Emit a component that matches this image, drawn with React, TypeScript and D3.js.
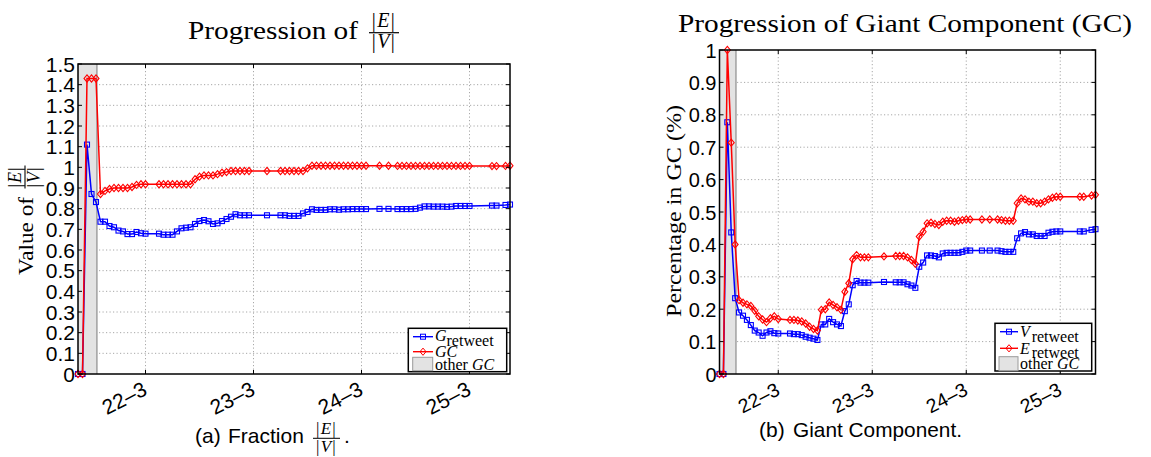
import React from "react";
import * as d3 from "d3";

// hours since 21-3 09:00
const hours = [0, 1, 2, 3, 4, 5, 6, 7, 8, 9, 10, 11, 12, 13, 14, 15,
  18, 19, 20, 21, 22, 23, 24, 25, 26, 27, 28, 29, 30, 31, 32, 33, 34, 35, 36, 37, 38,
  42,
  45, 46, 47, 48, 49, 50, 51, 52, 53, 54, 55, 56, 57, 58, 59, 60, 61, 62, 63, 64,
  67, 69,
  71, 72, 73, 74, 75, 76, 77, 78, 79, 80, 81, 82, 83, 84, 85, 86, 87,
  92, 93, 95, 96];

// (a) |E|/|V| of G_retweet
const ratioRetweet = [0, 0, 1.11, 0.871, 0.832, 0.737, 0.737, 0.716, 0.71, 0.694, 0.69, 0.677, 0.677, 0.687, 0.681, 0.679,
  0.679, 0.674, 0.674, 0.674, 0.69, 0.705, 0.708, 0.71, 0.726, 0.74, 0.745, 0.739, 0.726, 0.729, 0.74, 0.75, 0.761, 0.773, 0.768, 0.768, 0.768,
  0.768,
  0.768, 0.768, 0.765, 0.765, 0.765, 0.777, 0.784, 0.797, 0.794, 0.794, 0.794, 0.797, 0.797, 0.795, 0.797, 0.797, 0.798, 0.798, 0.798, 0.798,
  0.799, 0.799,
  0.798, 0.798, 0.798, 0.798, 0.799, 0.805, 0.811, 0.811, 0.81, 0.81, 0.81, 0.809, 0.81, 0.813, 0.813, 0.813, 0.813,
  0.815, 0.815, 0.818, 0.82];

// (a) |E|/|V| of GC
const ratioGC = [0, 0, 1.43, 1.43, 1.43, 0.871, 0.886, 0.895, 0.9, 0.9, 0.9, 0.9, 0.905, 0.915, 0.918, 0.918,
  0.918, 0.918, 0.918, 0.918, 0.918, 0.918, 0.918, 0.918, 0.942, 0.955, 0.961, 0.961, 0.961, 0.967, 0.974, 0.977, 0.982, 0.982, 0.982, 0.982, 0.982,
  0.982,
  0.982, 0.982, 0.982, 0.982, 0.982, 0.982, 0.995, 1.008, 1.008, 1.008, 1.008, 1.008, 1.008, 1.008, 1.008, 1.008, 1.008, 1.008, 1.008, 1.008,
  1.008, 1.008,
  1.007, 1.007, 1.007, 1.007, 1.007, 1.007, 1.007, 1.007, 1.007, 1.007, 1.007, 1.007, 1.007, 1.007, 1.007, 1.007, 1.007,
  1.006, 1.006, 1.007, 1.008];

// (b) fraction of V_retweet in GC
const gcNodes = [0, 0, 0.777, 0.437, 0.234, 0.19, 0.18, 0.167, 0.151, 0.134, 0.128, 0.118, 0.128, 0.132, 0.126, 0.125,
  0.125, 0.123, 0.123, 0.12, 0.115, 0.112, 0.109, 0.105, 0.153, 0.153, 0.17, 0.16, 0.153, 0.148, 0.194, 0.215, 0.274, 0.287, 0.282, 0.282, 0.282,
  0.284,
  0.283, 0.283, 0.283, 0.277, 0.273, 0.266, 0.331, 0.344, 0.366, 0.366, 0.364, 0.36, 0.372, 0.374, 0.374, 0.374, 0.374, 0.377, 0.381, 0.381,
  0.381, 0.381,
  0.381, 0.379, 0.377, 0.377, 0.377, 0.419, 0.434, 0.438, 0.431, 0.431, 0.426, 0.426, 0.426, 0.436, 0.439, 0.44, 0.44,
  0.44, 0.44, 0.445, 0.447];

// (b) fraction of E_retweet in GC
const gcEdges = [0, 0, 1.0, 0.714, 0.4, 0.228, 0.22, 0.215, 0.21, 0.195, 0.178, 0.168, 0.16, 0.172, 0.178, 0.17,
  0.167, 0.167, 0.165, 0.162, 0.156, 0.146, 0.139, 0.134, 0.198, 0.2, 0.221, 0.213, 0.206, 0.198, 0.254, 0.28, 0.354, 0.367, 0.36, 0.36, 0.36,
  0.363,
  0.364, 0.364, 0.364, 0.36, 0.352, 0.34, 0.424, 0.439, 0.465, 0.467, 0.463, 0.46, 0.47, 0.473, 0.473, 0.47, 0.473, 0.475, 0.477, 0.477,
  0.477, 0.477,
  0.477, 0.475, 0.473, 0.473, 0.473, 0.527, 0.542, 0.539, 0.532, 0.532, 0.527, 0.527, 0.532, 0.539, 0.544, 0.547, 0.547,
  0.547, 0.547, 0.551, 0.553];

const tickHours = [15, 39, 63, 87];
const tickLabels = ["22\u20133", "23\u20133", "24\u20133", "25\u20133"];
const yTicksA = [0, 0.1, 0.2, 0.3, 0.4, 0.5, 0.6, 0.7, 0.8, 0.9, 1, 1.1, 1.2, 1.3, 1.4, 1.5];
const yTicksB = [0, 0.1, 0.2, 0.3, 0.4, 0.5, 0.6, 0.7, 0.8, 0.9, 1];
const hourDomain = [0, 96];
const shadeEndHour = 4.2;

const SANS = "'Liberation Sans', Arial, Helvetica, sans-serif";
const SERIF = "'Liberation Serif', 'Times New Roman', serif";
const BLUE = "#0000ff";
const RED = "#ff0000";

function fmt(v: number) {
  return String(+v.toFixed(1));
}

function Frac({ cx, barY, size, num, den, barW, numDy, denDy, ls }: any) {
  return (
    <g fontFamily={SERIF} fontSize={size}>
      <text x={cx} y={barY - numDy} textAnchor="middle" letterSpacing={ls}>
        <tspan>|</tspan><tspan fontStyle="italic">{num}</tspan><tspan>|</tspan>
      </text>
      <line x1={cx - barW / 2} x2={cx + barW / 2} y1={barY} y2={barY} stroke="#000" strokeWidth={Math.max(1, size * 0.06)} />
      <text x={cx} y={barY + denDy} textAnchor="middle" letterSpacing={ls}>
        <tspan>|</tspan><tspan fontStyle="italic">{den}</tspan><tspan>|</tspan>
      </text>
    </g>
  );
}

function Panel({ left, right, top, bottom, yMax, yTicks, blue, red, tickFont, xLabFont }: any) {
  const x = d3.scaleLinear().domain(hourDomain).range([left, right]);
  const y = d3.scaleLinear().domain([0, yMax]).range([bottom, top]);
  const line = d3.line<[number, number]>().x((d) => x(d[0])).y((d) => y(d[1]));
  const bluePts: [number, number][] = hours.map((h, i) => [h, blue[i]]);
  const redPts: [number, number][] = hours.map((h, i) => [h, red[i]]);
  const gridStyle = { stroke: "#a8a8a8", strokeWidth: 1, strokeDasharray: "1.2,2.3" };
  const sx = x(shadeEndHour);
  return (
    <g>
      <rect x={left} y={top} width={right - left} height={bottom - top} fill="#fff" />
      {yTicks.filter((t: number) => t > 0 && t < yMax).map((t: number) => (
        <line key={"gy" + t} x1={left} x2={right} y1={y(t)} y2={y(t)} {...gridStyle} />
      ))}
      {tickHours.map((h) => (
        <line key={"gx" + h} x1={x(h)} x2={x(h)} y1={top} y2={bottom} {...gridStyle} />
      ))}
      <rect x={left} y={top} width={sx - left} height={bottom - top} fill="#e3e3e3" />
      <line x1={sx} x2={sx} y1={top} y2={bottom} stroke="#a0a0a0" strokeWidth={1.5} />
      <path d={line(bluePts) || ""} fill="none" stroke={BLUE} strokeWidth={1.5} />
      {bluePts.map((d, i) => (
        <rect key={"b" + i} x={x(d[0]) - 2.5} y={y(d[1]) - 2.5} width={5} height={5} fill="none" stroke={BLUE} strokeWidth={1.1} />
      ))}
      <path d={line(redPts) || ""} fill="none" stroke={RED} strokeWidth={1.5} />
      {redPts.map((d, i) => {
        const cx = x(d[0]), cy = y(d[1]);
        return (
          <path key={"r" + i} d={`M${cx},${cy - 3.6}L${cx + 3},${cy}L${cx},${cy + 3.6}L${cx - 3},${cy}Z`} fill="none" stroke={RED} strokeWidth={1.1} />
        );
      })}
      <rect x={left} y={top} width={right - left} height={bottom - top} fill="none" stroke="#000" strokeWidth={1.5} />
      {yTicks.map((t: number) => (
        <g key={"ty" + t}>
          <line x1={left} x2={left + 4} y1={y(t)} y2={y(t)} stroke="#000" />
          <line x1={right - 4} x2={right} y1={y(t)} y2={y(t)} stroke="#000" />
          <text x={left - 3} y={y(t) + 7.5} textAnchor="end" fontFamily={SANS} fontSize={tickFont}>{fmt(t)}</text>
        </g>
      ))}
      {tickHours.map((h, i) => (
        <g key={"tx" + h}>
          <line x1={x(h)} x2={x(h)} y1={bottom} y2={bottom - 4} stroke="#000" />
          <line x1={x(h)} x2={x(h)} y1={top} y2={top + 4} stroke="#000" />
          <text transform={`translate(${x(h) + 3},${bottom + 20}) rotate(-27)`} textAnchor="end" fontFamily={SANS} fontSize={xLabFont}>{tickLabels[i]}</text>
        </g>
      ))}
    </g>
  );
}

function LegendBox({ x, y, w, h }: any) {
  return <rect x={x} y={y} width={w} height={h} fill="#fff" stroke="#000" strokeWidth={1.5} />;
}

export default function App() {
  return (
    <svg width={1151} height={457} style={{ position: "absolute", left: 0, top: 0, background: "#fff" }}>
      {/* ---------- (a) ---------- */}
      <text x={188} y={38.5} fontFamily={SERIF} fontSize={25} textLength={170} lengthAdjust="spacingAndGlyphs">Progression of</text>
      <Frac cx={384} barY={32.7} size={20} num="E" den="V" barW={30} numDy={5.4} denDy={15.6} ls={1.5} />

      <g transform="translate(25,219) rotate(-90)">
        <text x={-56} y={8} fontFamily={SERIF} fontSize={22} textLength={78} lengthAdjust="spacingAndGlyphs">Value of</text>
        <Frac cx={42} barY={0} size={18} num="E" den="V" barW={23} numDy={4.5} denDy={15} ls={1} />
      </g>

      <Panel left={78} right={510} top={64} bottom={374} yMax={1.5} yTicks={yTicksA}
        blue={ratioRetweet} red={ratioGC} tickFont={21} xLabFont={21} />

      <LegendBox x={408.3} y={328.3} w={98.4} h={43.4} />
      <line x1={413} x2={433} y1={336.7} y2={336.7} stroke={BLUE} strokeWidth={1.4} />
      <rect x={420.5} y={334.2} width={5} height={5} fill="none" stroke={BLUE} />
      <text x={435} y={341} fontFamily={SERIF} fontSize={16}>
        <tspan fontStyle="italic">G</tspan>
        <tspan x={446.5} y={345.5}>retweet</tspan>
      </text>
      <line x1={413} x2={433} y1={351.7} y2={351.7} stroke={RED} strokeWidth={1.4} />
      <path d="M423,348.1L426,351.7L423,355.3L420,351.7Z" fill="none" stroke={RED} />
      <text x={435} y={357} fontFamily={SERIF} fontSize={16} fontStyle="italic">GC</text>
      <rect x={412.7} y={357.3} width={20} height={13.4} fill="#e3e3e3" stroke="#9a9a9a" />
      <text x={435} y={369.5} fontFamily={SERIF} fontSize={16}>
        <tspan>other </tspan><tspan fontStyle="italic">GC</tspan>
      </text>

      <text x={195} y={443} fontFamily={SANS} fontSize={21}>(a)</text>
      <text x={228} y={443} fontFamily={SANS} fontSize={21}>Fraction</text>
      <Frac cx={326.5} barY={438.3} size={17} num="E" den="V" barW={27} numDy={4} denDy={13.5} ls={1.3} />
      <text x={344} y={443} fontFamily={SANS} fontSize={21}>.</text>

      {/* ---------- (b) ---------- */}
      <text x={678} y={31.7} fontFamily={SERIF} fontSize={25} textLength={454} lengthAdjust="spacingAndGlyphs">Progression of Giant Component (GC)</text>

      <g transform="translate(673,211) rotate(-90)">
        <text x={0} y={8} textAnchor="middle" fontFamily={SERIF} fontSize={22} textLength={212} lengthAdjust="spacingAndGlyphs">Percentage in GC (%)</text>
      </g>

      <Panel left={719.5} right={1095.5} top={50} bottom={374} yMax={1} yTicks={yTicksB}
        blue={gcNodes} red={gcEdges} tickFont={20} xLabFont={19.5} />

      <LegendBox x={995} y={323.3} w={96.7} h={47.7} />
      <line x1={1000} x2={1018} y1={331.7} y2={331.7} stroke={BLUE} strokeWidth={1.4} />
      <rect x={1006.5} y={329.2} width={5} height={5} fill="none" stroke={BLUE} />
      <text x={1020} y={337} fontFamily={SERIF} fontSize={16}>
        <tspan fontStyle="italic">V</tspan>
        <tspan x={1031.7} y={341.5}>retweet</tspan>
      </text>
      <line x1={1000} x2={1018} y1={348.3} y2={348.3} stroke={RED} strokeWidth={1.4} />
      <path d="M1009,344.7L1012,348.3L1009,351.9L1006,348.3Z" fill="none" stroke={RED} />
      <text x={1020} y={353.5} fontFamily={SERIF} fontSize={16}>
        <tspan fontStyle="italic">E</tspan>
        <tspan x={1031.7} y={357.5}>retweet</tspan>
      </text>
      <rect x={999} y={356.7} width={19} height={14} fill="#e3e3e3" stroke="#9a9a9a" />
      <text x={1020} y={368.5} fontFamily={SERIF} fontSize={16}>
        <tspan>other </tspan><tspan fontStyle="italic">GC</tspan>
      </text>

      <text x={759} y={436.5} fontFamily={SANS} fontSize={21}>(b)</text>
      <text x={793} y={436.5} fontFamily={SANS} fontSize={21} textLength={169} lengthAdjust="spacingAndGlyphs">Giant Component.</text>
    </svg>
  );
}
